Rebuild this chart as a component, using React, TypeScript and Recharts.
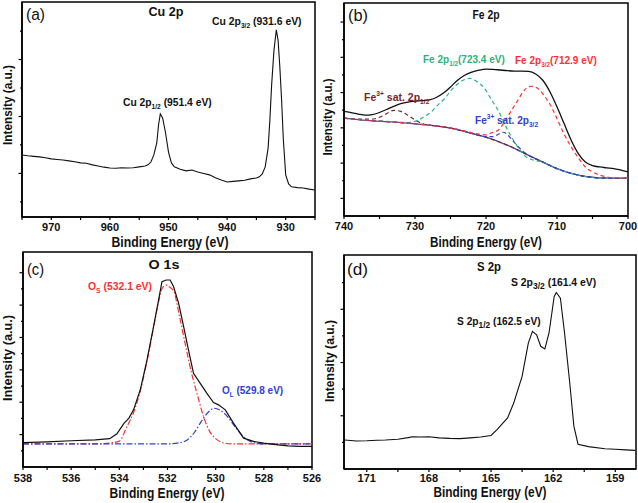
import { LineChart, Line, XAxis, YAxis, ReferenceArea } from "recharts"

type Pt = [number, number]

// (a) Cu 2p
const cuSpectrum: Pt[] = [
  [975, 2.65], [974, 2.62], [973, 2.6], [972, 2.58], [971, 2.55], [970, 2.51], [969, 2.49], [968, 2.47],
  [967, 2.44], [966, 2.41], [965, 2.37], [964, 2.36], [963, 2.3], [962, 2.26], [961, 2.22], [960, 2.19],
  [959, 2.18], [958, 2.2], [957, 2.19], [956, 2.2], [955, 2.23], [954, 2.26], [953.5, 2.3], [953, 2.4],
  [952.5, 2.65], [952, 3.07], [951.7, 3.7], [951.4, 4.09], [951, 3.95], [950.5, 3.42], [950, 2.75],
  [949.5, 2.37], [949, 2.23], [948, 2.15], [947, 2.09], [946, 2.12], [945, 2.05], [944, 2.0], [943, 1.95],
  [942, 1.85], [941, 1.77], [940, 1.7], [939, 1.72], [938, 1.74], [937, 1.76], [936, 1.81], [935, 1.84],
  [934.5, 1.88], [934, 1.98], [933.5, 2.23], [933, 2.89], [932.7, 3.88], [932.4, 5.11], [932, 6.33],
  [931.6, 7.04], [931.3, 6.68], [931, 5.74], [930.7, 4.58], [930.4, 3.18], [930, 1.95], [929.5, 1.63],
  [929, 1.53], [928, 1.5], [927, 1.49], [926, 1.45], [925, 1.42],
]

// (b) Fe 2p
const feEnvelope: Pt[] = [
  [740, 5.94], [739, 5.86], [738, 5.78], [737, 5.72], [736, 5.75], [735, 5.87], [734, 6.04], [733, 6.22],
  [732, 6.37], [731, 6.46], [730, 6.51], [729, 6.54], [728, 6.58], [727, 6.72], [726, 6.97], [725, 7.32],
  [724, 7.7], [723, 7.98], [722, 8.16], [721, 8.27], [720, 8.33], [719, 8.32], [718, 8.28], [717, 8.24],
  [716, 8.22], [715, 8.22], [714, 8.2], [713, 8.05], [712, 7.7], [711, 7.05], [710, 6.19], [709, 5.24],
  [708, 4.3], [707, 3.54], [706, 3.06], [705, 2.86], [704, 2.78], [703, 2.73], [702, 2.69], [701, 2.6], [700, 2.5],
]
const feBackground: Pt[] = [
  [740, 5.55], [738, 5.47], [736, 5.4], [734, 5.35], [732, 5.3], [730, 5.22], [728, 5.15], [726, 5.05],
  [724, 4.9], [722, 4.68], [720, 4.47], [718, 4.18], [716, 3.84], [714, 3.44], [712, 3.06], [710, 2.69],
  [708, 2.42], [706, 2.24], [704, 2.16], [702, 2.14], [700, 2.14],
]
const feSat12: Pt[] = [
  [740, 5.55], [738, 5.5], [736, 5.5], [735, 5.6], [734, 5.8], [733, 5.99], [732, 5.93], [731, 5.72],
  [730, 5.45], [729, 5.24], [728, 5.15], [726, 5.05], [724, 4.9], [722, 4.68], [720, 4.47], [718, 4.18],
  [716, 3.84], [714, 3.44], [712, 3.06], [710, 2.69], [708, 2.42], [706, 2.24], [704, 2.16], [702, 2.14], [700, 2.14],
]
const feP12: Pt[] = [
  [740, 5.55], [736, 5.42], [733, 5.34], [731, 5.3], [729.6, 5.43], [728.6, 5.66], [727.7, 5.91],
  [726.8, 6.29], [725.8, 6.67], [724.9, 7.14], [723.9, 7.52], [722.3, 7.8], [721.2, 7.6], [720.2, 7.23],
  [719.2, 6.57], [718.3, 6.0], [717.4, 5.24], [716.4, 4.47], [715.5, 3.9], [714.6, 3.44], [713.4, 3.18],
  [712, 3.06], [710, 2.69], [708, 2.42], [706, 2.24], [704, 2.16], [702, 2.14], [700, 2.14],
]
const feP32: Pt[] = [
  [740, 5.55], [736, 5.4], [732, 5.3], [728, 5.15], [726, 5.05], [724, 4.92], [722, 4.72], [721, 4.64],
  [720, 4.6], [719.2, 4.72], [718.3, 4.86], [717.4, 5.34], [716.4, 6.0], [715.5, 6.57], [714.6, 7.14],
  [713.6, 7.36], [712.7, 7.23], [711.7, 6.77], [710.8, 6.2], [709.9, 5.43], [709, 4.65], [708, 3.92],
  [707, 3.3], [706, 2.78], [705, 2.5], [704, 2.32], [703, 2.22], [702, 2.16], [700, 2.14],
]
const feSat32: Pt[] = [
  [740, 5.55], [736, 5.4], [732, 5.3], [728, 5.15], [726, 5.05], [724, 4.9], [722, 4.68], [721, 4.57],
  [720, 4.5], [719, 4.5], [718.3, 4.62], [717.6, 4.75], [717, 4.62], [716.4, 4.35], [715.5, 3.95],
  [714.6, 3.6], [714, 3.44], [712, 3.06], [710, 2.69], [708, 2.42], [706, 2.24], [704, 2.16], [702, 2.14], [700, 2.14],
]

// (c) O 1s
const oSpectrum: Pt[] = [
  [538, 1.51], [537, 1.55], [536, 1.62], [535, 1.68], [534.4, 1.75], [534.1, 2.05], [533.8, 2.71],
  [533.6, 3.02], [533.41, 3.53], [533.13, 4.77], [532.85, 6.62], [532.58, 8.67], [532.37, 10.32],
  [532.23, 11.45], [532.05, 11.55], [531.89, 11.55], [531.75, 11.15], [531.54, 10.12], [531.33, 8.67],
  [531.13, 7.23], [530.92, 5.79], [530.64, 5.17], [530.37, 4.56], [530.09, 3.98], [529.88, 3.84],
  [529.6, 3.53], [529.26, 2.71], [528.84, 1.78], [528.43, 1.58], [528, 1.47], [527.5, 1.38], [527, 1.3],
  [526.5, 1.28], [526, 1.27],
]
const oSurface: Pt[] = [
  [538, 1.43], [535, 1.43], [534.4, 1.48], [534, 1.6], [533.7, 2.45], [533.4, 3.4], [533.13, 4.7],
  [532.85, 6.55], [532.58, 8.6], [532.37, 10.2], [532.2, 11.1], [532.05, 11.23], [531.9, 11.1],
  [531.75, 10.9], [531.5, 9.3], [531.25, 7.5], [531, 5.8], [530.75, 4.4], [530.5, 3.1], [530.25, 2.2],
  [530, 1.75], [529.7, 1.5], [529.3, 1.43], [526, 1.43],
]
const oLattice: Pt[] = [
  [538, 1.43], [532, 1.43], [531.5, 1.5], [531.2, 1.65], [530.9, 2.1], [530.6, 2.8], [530.3, 3.4],
  [530.05, 3.63], [529.8, 3.5], [529.5, 3.1], [529.2, 2.5], [528.9, 1.95], [528.6, 1.6], [528.3, 1.47],
  [528, 1.43], [526, 1.43],
]

// (d) S 2p
const sSpectrum: Pt[] = [
  [172.07, 1.09], [171.5, 1.05], [171, 1.06], [170.5, 1.08], [170.1, 1.09], [169.5, 1.12], [169, 1.18],
  [168.8, 1.21], [168.4, 1.2], [168, 1.21], [167.5, 1.17], [167, 1.15], [166.5, 1.14], [166, 1.17],
  [165.5, 1.2], [165, 1.26], [164.7, 1.49], [164.2, 1.92], [163.9, 2.49], [163.5, 3.48], [163.2, 4.73],
  [163.0, 5.17], [162.8, 5.04], [162.6, 4.61], [162.4, 4.51], [162.2, 5.11], [161.95, 6.48],
  [161.85, 6.63], [161.65, 6.42], [161.45, 5.11], [161.2, 3.24], [161.0, 1.61], [160.8, 0.93],
  [160.3, 0.84], [159.5, 0.76], [159, 0.74], [158.5, 0.72], [158.05, 0.7],
]

const cuTicks = [975, 970, 965, 960, 955, 950, 945, 940, 935, 930, 925]
const cuLabels = [970, 960, 950, 940, 930]
const feTicks = [740, 735, 730, 725, 720, 715, 710, 705, 700]
const feLabels = [740, 730, 720, 710, 700]
const oTicks = [538, 537, 536, 535, 534, 533, 532, 531, 530, 529, 528, 527, 526]
const oLabels = [538, 536, 534, 532, 530, 528, 526]
const sTicks = [171, 169.5, 168, 166.5, 165, 163.5, 162, 160.5, 159]
const sLabels = [171, 168, 165, 162, 159]

const FONT = "'Liberation Sans', Arial, Helvetica, sans-serif"
const GREEN = "#2fb07a"
const RED = "#ff2f2f"
const BLUE = "#3040d0"
const DARKRED = "#7c1e2c"
const BG = "#4a4aa8"

type SeriesDef = { name: string; pts: Pt[]; color: string; dash?: string; width?: number; curve?: "linear" | "monotone" }

type PanelProps = {
  left: number
  top: number
  width: number
  height: number
  margin: { top: number; right: number; bottom: number; left: number }
  xDomain: [number, number]
  xTicks: number[]
  xLabels: number[]
  labelGap: number
  yDomain: [number, number]
  yTicks: number[]
  yMajor: number[]
  series: SeriesDef[]
}

const toRows = (pts: Pt[]) => pts.map(([x, y]) => ({ x, y }))

function Panel(p: PanelProps) {
  const XTick = (props: any) => {
    const { x, y, payload } = props
    const v = payload.value
    const labeled = p.xLabels.some((l) => Math.abs(l - v) < 1e-6)
    return (
      <g>
        <line x1={x} x2={x} y1={y} y2={y + 3} stroke="#000" strokeWidth={1.2} />
        {labeled && (
          <text x={x} y={y + p.labelGap} textAnchor="middle" fontFamily={FONT} fontWeight="bold" fontSize={11} fill="#111">
            {v}
          </text>
        )}
      </g>
    )
  }
  const YTick = (props: any) => {
    const { x, y, payload } = props
    const len = p.yMajor.includes(payload.value) ? 3.5 : 2
    return <line x1={x} x2={x - len} y1={y} y2={y} stroke="#000" strokeWidth={1.2} />
  }
  // axes need a non-zero size to be drawn; take that 1px out of the margins
  const m = { ...p.margin, left: p.margin.left - 1, bottom: p.margin.bottom - 1 }
  return (
    <div style={{ position: "absolute", left: p.left, top: p.top }}>
      <LineChart width={p.width} height={p.height} margin={m}>
        <XAxis
          type="number"
          dataKey="x"
          domain={p.xDomain}
          reversed
          allowDataOverflow
          ticks={p.xTicks}
          interval={0}
          tick={XTick}
          tickLine={false}
          tickSize={0}
          tickMargin={0}
          height={1}
          axisLine={{ stroke: "#000", strokeWidth: 1.5 }}
        />
        <YAxis
          type="number"
          domain={p.yDomain}
          allowDataOverflow
          ticks={p.yTicks}
          interval={0}
          tick={YTick}
          tickLine={false}
          tickSize={0}
          tickMargin={0}
          width={1}
          axisLine={{ stroke: "#000", strokeWidth: 1.5 }}
        />
        <ReferenceArea
          x1={p.xDomain[0]}
          x2={p.xDomain[1]}
          y1={p.yDomain[0]}
          y2={p.yDomain[1]}
          fill="none"
          stroke="#000"
          strokeWidth={1.5}
          ifOverflow="visible"
        />
        {p.series.map((s) => (
          <Line
            key={s.name}
            data={toRows(s.pts)}
            dataKey="y"
            type={s.curve ?? "linear"}
            stroke={s.color}
            strokeWidth={s.width ?? 1.2}
            strokeDasharray={s.dash}
            dot={false}
            activeDot={false}
            isAnimationActive={false}
          />
        ))}
      </LineChart>
    </div>
  )
}

type TxtProps = {
  x: number
  y: number
  len?: number
  size?: number
  bold?: boolean
  color?: string
  anchor?: "start" | "middle" | "end"
  rotate?: boolean
  children: any
}

function Txt({ x, y, len, size = 12, bold = true, color = "#111", anchor = "start", rotate, children }: TxtProps) {
  return (
    <text
      x={x}
      y={y}
      fontFamily={FONT}
      fontSize={size}
      fontWeight={bold ? "bold" : "normal"}
      fill={color}
      textAnchor={anchor}
      textLength={len}
      lengthAdjust={len ? "spacingAndGlyphs" : undefined}
      transform={rotate ? `rotate(-90 ${x} ${y})` : undefined}
    >
      {children}
    </text>
  )
}

export default function App() {
  return (
    <div style={{ position: "absolute", left: 0, top: 0, width: 638, height: 503, background: "#fff" }}>
      <Panel
        left={0}
        top={0}
        width={320}
        height={250}
        margin={{ top: 2, left: 22, right: 5, bottom: 33 }}
        xDomain={[925, 975]}
        xTicks={cuTicks}
        xLabels={cuLabels}
        labelGap={14}
        yDomain={[0.47, 8.02]}
        yTicks={[1, 2, 3, 4, 5, 6, 7]}
        yMajor={[2, 4, 6]}
        series={[{ name: "cu", pts: cuSpectrum, color: "#111", width: 1.1 }]}
      />
      <Panel
        left={318}
        top={0}
        width={320}
        height={250}
        margin={{ top: 3, left: 26, right: 10, bottom: 34 }}
        xDomain={[700, 740]}
        xTicks={feTicks}
        xLabels={feLabels}
        labelGap={14}
        yDomain={[0, 12.08]}
        yTicks={[1, 2, 3, 4, 5, 6, 7, 8, 9, 10, 11]}
        yMajor={[1, 3, 5, 7, 9, 11]}
        series={[
          { name: "bg", pts: feBackground, color: BG, width: 1.3, curve: "monotone" },
          { name: "sat12", pts: feSat12, color: DARKRED, dash: "4 3", curve: "monotone" },
          { name: "p12", pts: feP12, color: GREEN, dash: "4 3", curve: "monotone" },
          { name: "sat32", pts: feSat32, color: BLUE, dash: "4 3", curve: "monotone" },
          { name: "p32", pts: feP32, color: RED, dash: "4 3", curve: "monotone" },
          { name: "env", pts: feEnvelope, color: "#111", width: 1.3, curve: "monotone" },
        ]}
      />
      <Panel
        left={0}
        top={250}
        width={330}
        height={253}
        margin={{ top: 2, left: 23, right: 18, bottom: 36 }}
        xDomain={[526, 538]}
        xTicks={oTicks}
        xLabels={oLabels}
        labelGap={15}
        yDomain={[0, 13.28]}
        yTicks={[1, 2, 3, 4, 5, 6, 7, 8, 9, 10, 11, 12]}
        yMajor={[2, 4, 6, 8, 10, 12]}
        series={[
          { name: "os", pts: oSurface, color: RED, dash: "6 2 1.5 2", curve: "monotone" },
          { name: "ol", pts: oLattice, color: BLUE, dash: "6 2 1.5 2", curve: "monotone" },
          { name: "o", pts: oSpectrum, color: "#111", width: 1.2 },
        ]}
      />
      <Panel
        left={318}
        top={250}
        width={320}
        height={253}
        margin={{ top: 5, left: 26, right: 2, bottom: 34 }}
        xDomain={[158, 172.1]}
        xTicks={sTicks}
        xLabels={sLabels}
        labelGap={13}
        yDomain={[0, 8.04]}
        yTicks={[1, 2, 3, 4, 5, 6, 7]}
        yMajor={[2, 4, 6]}
        series={[{ name: "s", pts: sSpectrum, color: "#111", width: 1.1 }]}
      />

      <svg width={638} height={503} style={{ position: "absolute", left: 0, top: 0, pointerEvents: "none" }}>
        {/* (a) */}
        <Txt x={26} y={20} size={16} bold={false} len={19}>(a)</Txt>
        <Txt x={166} y={16} anchor="middle" len={35}>Cu 2p</Txt>
        <Txt x={212} y={25} size={10.4}>
          Cu 2p<tspan fontSize={6.7} dy={3}>3/2</tspan>
          <tspan dy={-3}> (931.6 eV)</tspan>
        </Txt>
        <Txt x={123} y={106} size={10.3}>
          Cu 2p<tspan fontSize={6.6} dy={3}>1/2</tspan>
          <tspan dy={-3}> (951.4 eV)</tspan>
        </Txt>
        <Txt x={170} y={246.5} size={14} anchor="middle" len={117}>Binding Energy (eV)</Txt>
        <Txt x={12} y={105} size={12} anchor="middle" len={80} rotate>Intensity (a.u.)</Txt>

        {/* (b) */}
        <Txt x={348} y={21} size={16} bold={false} len={20}>(b)</Txt>
        <Txt x={486} y={19} anchor="middle" len={27}>Fe 2p</Txt>
        <Txt x={364} y={101} size={10.5} color={DARKRED}>
          Fe<tspan fontSize={6.7} dy={-5}>3+</tspan>
          <tspan dy={5}> sat. 2p</tspan>
          <tspan fontSize={6.7} dy={3}>1/2</tspan>
        </Txt>
        <Txt x={423} y={63} size={10} color={GREEN}>
          Fe 2p<tspan fontSize={6.4} dy={3}>1/2</tspan>
          <tspan dy={-3}>(723.4 eV)</tspan>
        </Txt>
        <Txt x={515} y={64} size={10} color={RED}>
          Fe 2p<tspan fontSize={6.4} dy={3}>3/2</tspan>
          <tspan dy={-3}>(712.9 eV)</tspan>
        </Txt>
        <Txt x={475} y={124} size={10.1} color={BLUE}>
          Fe<tspan fontSize={6.5} dy={-5}>3+</tspan>
          <tspan dy={5}> sat. 2p</tspan>
          <tspan fontSize={6.5} dy={3}>3/2</tspan>
        </Txt>
        <Txt x={486} y={246.5} size={14} anchor="middle" len={112}>Binding Energy (eV)</Txt>
        <Txt x={332} y={117} size={12} anchor="middle" len={77} rotate>Intensity (a.u.)</Txt>

        {/* (c) */}
        <Txt x={27} y={275} size={16} bold={false} len={17}>(c)</Txt>
        <Txt x={164} y={269} anchor="middle" len={31}>O 1s</Txt>
        <Txt x={88} y={290} size={10.4} color={RED}>
          O<tspan fontSize={6.7} dy={3}>S</tspan>
          <tspan dy={-3}> (532.1 eV)</tspan>
        </Txt>
        <Txt x={222} y={394} size={10} color={BLUE}>
          O<tspan fontSize={6.4} dy={3}>L</tspan>
          <tspan dy={-3}> (529.8 eV)</tspan>
        </Txt>
        <Txt x={167} y={498} size={14} anchor="middle" len={115}>Binding Energy (eV)</Txt>
        <Txt x={12} y={358} size={12} anchor="middle" len={86} rotate>Intensity (a.u.)</Txt>

        {/* (d) */}
        <Txt x={347} y={275} size={16} bold={false} len={21}>(d)</Txt>
        <Txt x={489} y={271} anchor="middle" len={24}>S 2p</Txt>
        <Txt x={511} y={286} size={10.4}>
          S 2p<tspan fontSize={8.5} dy={3}>3/2</tspan>
          <tspan dy={-3}> (161.4 eV)</tspan>
        </Txt>
        <Txt x={457} y={325} size={10.2}>
          S 2p<tspan fontSize={8.4} dy={3}>1/2</tspan>
          <tspan dy={-3}> (162.5 eV)</tspan>
        </Txt>
        <Txt x={490} y={497} size={14} anchor="middle" len={113}>Binding Energy (eV)</Txt>
        <Txt x={334} y={361} size={12} anchor="middle" len={82} rotate>Intensity (a.u.)</Txt>
      </svg>
    </div>
  )
}
